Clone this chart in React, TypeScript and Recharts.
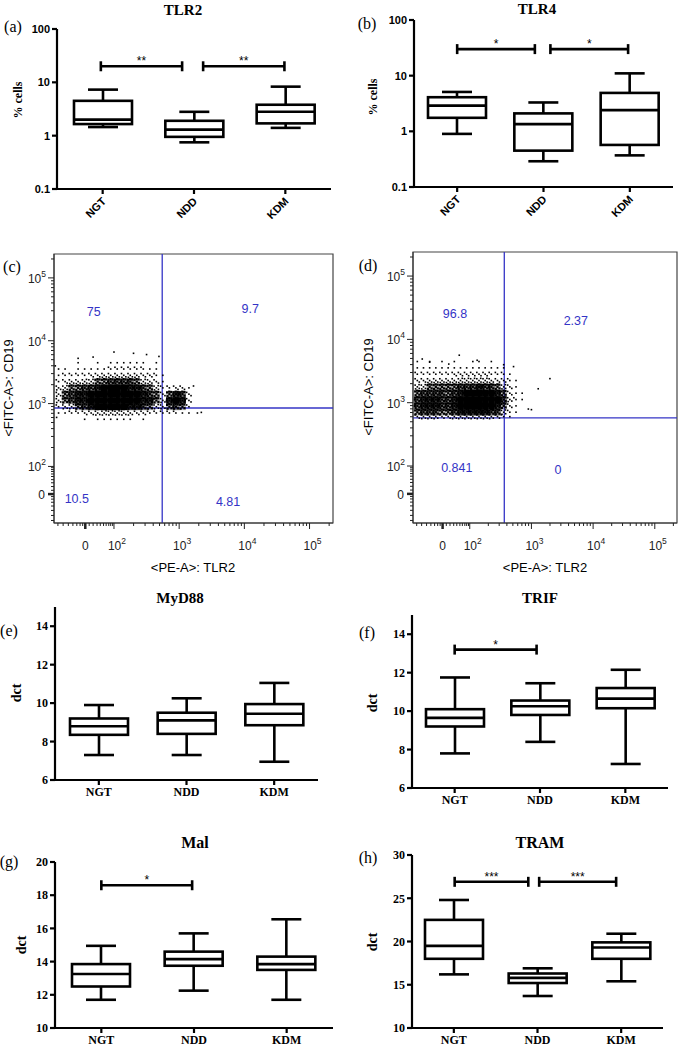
import React from "react";
import {
  ComposedChart,
  ScatterChart,
  Bar,
  Scatter,
  XAxis,
  YAxis,
  ReferenceLine,
  ReferenceArea,
} from "recharts";

const SERIF = '"Liberation Serif", "Times New Roman", serif';
const SANS = '"Liberation Sans", Arial, sans-serif';
const BLUE = "#3434c6";

const groups = ["NGT", "NDD", "KDM"];

// [min, q1, median, q3, max] per group
const tlr2Stats = [[1.45, 1.65, 2.0, 4.5, 7.3], [0.75, 0.95, 1.3, 1.9, 2.8], [1.4, 1.7, 2.8, 3.8, 8.3]];
const tlr4Stats = [[0.9, 1.75, 2.9, 4.1, 5.1], [0.29, 0.45, 1.35, 2.1, 3.3], [0.37, 0.57, 2.4, 4.9, 11]];
const myd88Stats = [[7.3, 8.35, 8.8, 9.2, 9.9], [7.3, 8.4, 9.1, 9.5, 10.25], [6.95, 8.85, 9.45, 9.95, 11.05]];
const trifStats = [[7.8, 9.2, 9.65, 10.1, 11.75], [8.4, 9.8, 10.25, 10.55, 11.45], [7.25, 10.15, 10.65, 11.2, 12.15]];
const malStats = [[11.7, 12.5, 13.25, 13.85, 14.95], [12.25, 13.75, 14.15, 14.6, 15.7], [11.7, 13.5, 13.85, 14.3, 16.55]];
const tramStats = [[16.2, 18.0, 19.5, 22.5, 24.8], [13.7, 15.2, 15.8, 16.3, 16.9], [15.4, 18.0, 19.3, 19.9, 20.9]];

// significance brackets (x on a 1..3 group scale)
const tlr2Sig = [{ from: 0.98, to: 1.87, y: 20, label: "**" }, { from: 2.1, to: 2.99, y: 20, label: "**" }];
const tlr4Sig = [{ from: 1.0, to: 1.9, y: 30, label: "*" }, { from: 2.08, to: 2.98, y: 30, label: "*" }];
const trifSig = [{ from: 1.0, to: 1.96, y: 13.2, label: "*" }];
const malSig = [{ from: 1.0, to: 1.98, y: 18.6, label: "*" }];
const tramSig = [{ from: 1.01, to: 1.89, y: 26.9, label: "***" }, { from: 2.02, to: 2.94, y: 26.9, label: "***" }];

const logTicks = [0.1, 1, 10, 100];
const dctTicksA = [6, 8, 10, 12, 14];
const dctTicksB = [10, 12, 14, 16, 18, 20];
const dctTicksC = [10, 15, 20, 25, 30];

// flow plots: positions in display decades (2 = 10^2, 3 = 10^3 ...)
const flowMajor = [1.56, 2, 3, 4, 5];
const flowExp = ["", "2", "3", "4", "5"];
const flowMinorLinear = [1.14, 1.22, 1.3, 1.37, 1.43, 1.48, 1.52, 1.62, 1.68, 1.74, 1.79, 1.84, 1.88, 1.92, 1.95, 1.98];
const flowMinorLog: number[] = [];
[2, 3, 4, 5].forEach((d) =>
  [2, 3, 4, 5, 6, 7, 8, 9].forEach((k) => {
    const v = d + Math.log10(k);
    if (v < 5.36) flowMinorLog.push(v);
  })
);
const flowTicks = [...flowMajor, ...flowMinorLinear, ...flowMinorLog].sort((a, b) => a - b);

// event density (0-9) of panel (c), rows top to bottom
const cloudCX = [1.15, 1.25, 1.35, 1.45, 1.55, 1.65, 1.75, 1.85, 1.95, 2.05, 2.15, 2.25, 2.35, 2.45, 2.55, 2.65, 2.75, 2.85, 2.95, 3.05, 3.15];
const cloudCY = [3.75, 3.65, 3.55, 3.45, 3.35, 3.25, 3.15, 3.05, 2.95, 2.85, 2.75];
const cloudCDensity = [
  [0, 0, 0, 0, 0, 0, 0, 0, 0, 0, 0, 0, 0, 0, 0, 0, 0, 0, 0, 0, 0],
  [0, 0, 0, 1, 0, 0, 1, 0, 1, 1, 1, 1, 1, 1, 0, 1, 0, 0, 0, 0, 0],
  [1, 1, 0, 1, 1, 1, 1, 1, 2, 2, 2, 2, 2, 2, 1, 1, 0, 0, 0, 0, 0],
  [1, 2, 2, 2, 2, 3, 3, 4, 4, 4, 4, 4, 4, 3, 3, 2, 1, 0, 0, 0, 0],
  [2, 3, 4, 4, 5, 5, 6, 6, 7, 7, 7, 7, 6, 5, 4, 3, 1, 0, 0, 0, 0],
  [4, 5, 6, 6, 7, 7, 8, 9, 9, 9, 9, 8, 8, 7, 6, 5, 2, 2, 3, 3, 1],
  [4, 6, 7, 8, 8, 9, 9, 9, 9, 9, 9, 9, 9, 8, 7, 6, 3, 6, 8, 7, 3],
  [4, 6, 7, 8, 8, 9, 9, 9, 9, 9, 9, 9, 9, 8, 8, 6, 4, 8, 9, 8, 3],
  [2, 4, 5, 6, 7, 8, 9, 9, 9, 9, 9, 8, 8, 7, 6, 5, 4, 6, 7, 6, 2],
  [1, 1, 2, 2, 3, 3, 4, 5, 5, 5, 4, 4, 3, 3, 2, 2, 2, 2, 2, 1, 1],
  [0, 0, 0, 0, 1, 0, 1, 1, 1, 1, 1, 1, 0, 1, 0, 0, 0, 0, 0, 0, 0],
];
const straysC = [
  { x: 1.1, y: 3.6 }, { x: 1.68, y: 3.74 }, { x: 2.69, y: 3.75 }, { x: 2.3, y: 3.8 },
  { x: 2.0, y: 3.82 }, { x: 3.22, y: 3.28 }, { x: 3.28, y: 2.85 }, { x: 3.34, y: 2.86 },
  { x: 1.12, y: 2.78 }, { x: 1.45, y: 3.72 }, { x: 2.5, y: 3.78 },
];
const quadCX = 2.74;
const quadCY = 2.93;
const quadLabelsC = [
  { x: 1.69, y: 4.45, text: "75" },
  { x: 4.09, y: 4.5, text: "9.7" },
  { x: 1.43, y: 1.48, text: "10.5" },
  { x: 3.75, y: 1.43, text: "4.81" },
];

// event density (0-9) of panel (d), rows top to bottom
const cloudDX = [1.15, 1.25, 1.35, 1.45, 1.55, 1.65, 1.75, 1.85, 1.95, 2.05, 2.15, 2.25, 2.35, 2.45, 2.55, 2.65, 2.75, 2.85];
const cloudDY = [3.75, 3.65, 3.55, 3.45, 3.35, 3.25, 3.15, 3.05, 2.95, 2.85, 2.78];
const cloudDDensity = [
  [0, 0, 0, 0, 0, 0, 0, 0, 0, 0, 0, 0, 0, 0, 0, 0, 0, 0],
  [1, 0, 1, 0, 1, 0, 1, 0, 0, 1, 1, 0, 1, 0, 0, 0, 0, 0],
  [1, 1, 1, 1, 1, 1, 1, 1, 1, 1, 1, 1, 1, 1, 1, 0, 0, 0],
  [2, 2, 2, 2, 2, 2, 3, 3, 3, 3, 3, 3, 2, 2, 2, 1, 0, 0],
  [3, 3, 4, 4, 4, 4, 4, 5, 5, 5, 5, 5, 4, 3, 3, 2, 1, 0],
  [5, 5, 6, 6, 6, 6, 6, 7, 7, 7, 8, 7, 7, 6, 5, 3, 1, 0],
  [6, 7, 7, 7, 7, 6, 7, 8, 9, 9, 9, 9, 9, 8, 6, 3, 1, 1],
  [7, 8, 8, 8, 7, 7, 8, 9, 9, 9, 9, 9, 9, 9, 7, 4, 2, 1],
  [7, 8, 8, 8, 7, 7, 8, 9, 9, 9, 9, 9, 9, 8, 6, 3, 1, 0],
  [6, 7, 7, 7, 6, 6, 7, 8, 8, 8, 8, 8, 7, 7, 5, 2, 1, 0],
  [3, 4, 4, 4, 3, 3, 4, 4, 4, 4, 4, 4, 4, 3, 2, 1, 0, 0],
];
const straysD = [
  { x: 1.83, y: 3.75 }, { x: 2.12, y: 3.67 }, { x: 2.71, y: 3.57 }, { x: 3.3, y: 3.38 },
  { x: 3.0, y: 2.89 }, { x: 3.11, y: 3.22 }, { x: 1.35, y: 3.64 }, { x: 1.23, y: 3.69 },
  { x: 1.66, y: 3.61 }, { x: 2.95, y: 2.9 }, { x: 2.55, y: 3.6 },
];
const quadDX = 2.56;
const quadDY = 2.76;
const quadLabelsD = [
  { x: 1.76, y: 4.4, text: "96.8" },
  { x: 3.72, y: 4.29, text: "2.37" },
  { x: 1.79, y: 1.97, text: "0.841" },
  { x: 3.43, y: 1.94, text: "0" },
];

const FX: [number, number] = [1.08, 5.36];
const FY: [number, number] = [1.1, 5.38];

// ---------- box plot pieces ----------
const WhiskerShape = (p: any) => {
  const top = Math.min(p.y, p.y + p.height);
  const bot = Math.max(p.y, p.y + p.height);
  const cx = p.x + p.width / 2;
  return (
    <g stroke="#000" strokeWidth={2.6} fill="none">
      <line x1={cx} y1={top} x2={cx} y2={bot} />
      <line x1={p.x} y1={top} x2={p.x + p.width} y2={top} />
      <line x1={p.x} y1={bot} x2={p.x + p.width} y2={bot} />
    </g>
  );
};

const BoxShape = (p: any) => (
  <rect
    x={p.x}
    y={Math.min(p.y, p.y + p.height)}
    width={p.width}
    height={Math.abs(p.height)}
    fill="#fff"
    stroke="#000"
    strokeWidth={2.6}
  />
);

const makeMedian = (w: number) => (p: any) => (
  <line x1={p.cx - w / 2} y1={p.cy} x2={p.cx + w / 2} y2={p.cy} stroke="#000" strokeWidth={2.6} />
);

const makeBracket = (label: string) => (p: any) => (
  <g>
    <line x1={p.x1} y1={p.y1} x2={p.x2} y2={p.y2} stroke="#000" strokeWidth={2.6} />
    <line x1={p.x1} y1={p.y1 - 5} x2={p.x1} y2={p.y1 + 5} stroke="#000" strokeWidth={2.6} />
    <line x1={p.x2} y1={p.y2 - 5} x2={p.x2} y2={p.y2 + 5} stroke="#000" strokeWidth={2.6} />
    <text x={(p.x1 + p.x2) / 2} y={p.y1 - 1} textAnchor="middle" fontFamily={SANS} fontSize={12} fill="#000">
      {label}
    </text>
  </g>
);

const SlantTick = (p: any) => {
  const x = p.x + 4;
  const y = p.y + 6;
  return (
    <text x={x} y={y} transform={`rotate(-45 ${x} ${y})`} textAnchor="end" fontFamily={SANS} fontWeight={700} fontSize={11} fill="#000">
      {p.payload.value}
    </text>
  );
};

type BoxPanelProps = {
  stats: number[][];
  sig: { from: number; to: number; y: number; label: string }[];
  width: number;
  height: number;
  top: number;
  right: number;
  yw: number;
  xh: number;
  domain: [number, number];
  ticks: number[];
  log?: boolean;
};

function BoxPanel({ stats, sig, width, height, top, right, yw, xh, domain, ticks, log }: BoxPanelProps) {
  const rows = groups.map((g, i) => ({
    g,
    pos: i + 1,
    whisker: [stats[i][0], stats[i][4]],
    box: [stats[i][1], stats[i][3]],
    med: stats[i][2],
  }));
  const tickFont = log
    ? { fontFamily: SANS, fontWeight: 700, fontSize: 11, fill: "#000" }
    : { fontFamily: SERIF, fontWeight: 700, fontSize: 12, fill: "#000" };
  const line = { stroke: "#000", strokeWidth: 2.2 };
  return (
    <ComposedChart width={width} height={height} data={rows} margin={{ top, right, left: 0, bottom: 0 }}>
      <XAxis xAxisId="w" dataKey="g" hide />
      <XAxis xAxisId="n" type="number" dataKey="pos" domain={[0.5, 3.5]} allowDataOverflow hide />
      <XAxis
        xAxisId="b"
        dataKey="g"
        height={xh}
        axisLine={line}
        tickLine={line}
        tickSize={5}
        interval={0}
        tick={log ? SlantTick : tickFont}
      />
      <YAxis
        type="number"
        width={yw}
        domain={domain}
        ticks={ticks}
        scale={log ? "log" : "linear"}
        allowDataOverflow
        axisLine={line}
        tickLine={line}
        tickSize={5}
        interval={0}
        tick={tickFont}
        tickFormatter={(v: number) => String(v)}
      />
      <Bar xAxisId="w" dataKey="whisker" barSize={30} shape={WhiskerShape} isAnimationActive={false} />
      <Bar xAxisId="b" dataKey="box" barSize={58} shape={BoxShape} isAnimationActive={false} />
      <Scatter xAxisId="b" dataKey="med" shape={makeMedian(58)} isAnimationActive={false} />
      {sig.map((s, i) => (
        <ReferenceLine
          key={i}
          xAxisId="n"
          ifOverflow="visible"
          segment={[{ x: s.from, y: s.y }, { x: s.to, y: s.y }]}
          shape={makeBracket(s.label)}
        />
      ))}
    </ComposedChart>
  );
}

// ---------- flow plot pieces ----------
const majorIndex = (v: number) => flowMajor.findIndex((m) => Math.abs(m - v) < 1e-6);

const TickText = ({ i, x, y, anchor }: { i: number; x: number; y: number; anchor: "middle" | "end" }) => (
  <text x={x} y={y} textAnchor={anchor} fontFamily={SANS} fontSize={12} fill="#222">
    {flowExp[i] === "" ? "0" : "10"}
    {flowExp[i] !== "" && (
      <tspan dy={-6} fontSize={8.5}>
        {flowExp[i]}
      </tspan>
    )}
  </text>
);

const FlowXTick = (p: any) => {
  const i = majorIndex(p.payload.value);
  return (
    <g>
      <line x1={p.x} y1={p.y} x2={p.x} y2={p.y + (i >= 0 ? 6 : 3)} stroke="#222" strokeWidth={i === 0 ? 2.5 : 1} />
      {i >= 0 && <TickText i={i} x={i === 0 ? p.x : p.x + 3} y={p.y + 27} anchor="middle" />}
    </g>
  );
};

const FlowYTick = (p: any) => {
  const i = majorIndex(p.payload.value);
  return (
    <g>
      <line x1={p.x - (i >= 0 ? 6 : 3)} y1={p.y} x2={p.x} y2={p.y} stroke="#222" strokeWidth={i === 0 ? 2.5 : 1} />
      {i >= 0 && <TickText i={i} x={i === 0 ? p.x - 9 : p.x - 8} y={p.y + 5} anchor="end" />}
    </g>
  );
};

// sub-cell spots used to draw density as a dot texture
const spots = [
  [0.5, 0.5], [0.15, 0.22], [0.82, 0.74], [0.22, 0.82], [0.78, 0.15],
  [0.47, 0.1], [0.1, 0.52], [0.88, 0.44], [0.52, 0.88],
];

const makeCell = (cw: number, ch: number) => (p: any) => {
  const d = p.payload.d;
  const s = d >= 6 ? 2.2 : 1.6;
  const solid = d >= 6 ? (d - 5) / 4 : 0;
  return (
    <g fill="#000">
      {solid > 0 && (
        <rect x={p.cx - cw / 2} y={p.cy - ch / 2} width={cw + 0.3} height={ch + 0.3} fillOpacity={solid} />
      )}
      {spots.slice(0, d).map(([fx, fy], k) => (
        <rect key={k} x={p.cx - cw / 2 + fx * cw - s / 2} y={p.cy - ch / 2 + fy * ch - s / 2} width={s} height={s} />
      ))}
    </g>
  );
};

const StrayDot = (p: any) => <rect x={p.cx - 0.8} y={p.cy - 0.8} width={1.6} height={1.6} fill="#000" />;

const QuadText = (p: any) => (
  <text x={p.cx} y={p.cy + 4} textAnchor="middle" fontFamily={SANS} fontSize={12.5} fill={BLUE}>
    {p.payload.text}
  </text>
);

function buildCells(xs: number[], ys: number[], dens: number[][]) {
  const out: { x: number; y: number; d: number }[] = [];
  ys.forEach((y, r) => xs.forEach((x, c) => {
    if (dens[r][c] > 0) out.push({ x, y, d: dens[r][c] });
  }));
  return out;
}

type FlowProps = {
  width: number;
  height: number;
  top: number;
  right: number;
  yw: number;
  xh: number;
  cells: { x: number; y: number; d: number }[];
  strays: { x: number; y: number }[];
  qx: number;
  qy: number;
  labels: { x: number; y: number; text: string }[];
};

function FlowPanel({ width, height, top, right, yw, xh, cells, strays, qx, qy, labels }: FlowProps) {
  const pw = width - right - yw;
  const ph = height - top - xh;
  const cw = (0.1 * pw) / (FX[1] - FX[0]);
  const ch = (0.1 * ph) / (FY[1] - FY[0]);
  return (
    <ScatterChart width={width} height={height} margin={{ top, right, left: 0, bottom: 0 }}>
      <XAxis
        type="number"
        dataKey="x"
        domain={FX}
        ticks={flowTicks}
        interval={0}
        allowDataOverflow
        height={xh}
        tickSize={0}
        tickMargin={0}
        tickLine={false}
        axisLine={{ stroke: "#333" }}
        tick={FlowXTick}
      />
      <YAxis
        type="number"
        dataKey="y"
        domain={FY}
        ticks={flowTicks}
        interval={0}
        allowDataOverflow
        width={yw}
        tickSize={0}
        tickMargin={0}
        tickLine={false}
        axisLine={{ stroke: "#333" }}
        tick={FlowYTick}
      />
      <ReferenceArea x1={FX[0]} x2={FX[1]} y1={FY[0]} y2={FY[1]} fill="none" stroke="#444" strokeWidth={1.2} />
      <Scatter data={cells} shape={makeCell(cw, ch)} isAnimationActive={false} />
      <Scatter data={strays} shape={StrayDot} isAnimationActive={false} />
      <ReferenceLine x={qx} stroke={BLUE} strokeWidth={1.3} />
      <ReferenceLine y={qy} stroke={BLUE} strokeWidth={1.3} />
      <Scatter data={labels} shape={QuadText} isAnimationActive={false} />
    </ScatterChart>
  );
}

// ---------- page ----------
const Txt = ({ x, y, size = 16, bold = false, rotate = 0, font = SERIF, children }: any) => (
  <div
    style={{
      position: "absolute",
      left: x,
      top: y,
      transform: `translate(-50%, -50%) rotate(${rotate}deg)`,
      fontFamily: font,
      fontSize: size,
      fontWeight: bold ? 700 : 400,
      whiteSpace: "nowrap",
      lineHeight: 1,
      color: "#000",
    }}
  >
    {children}
  </div>
);

const At = ({ x, y, children }: any) => (
  <div style={{ position: "absolute", left: x, top: y }}>{children}</div>
);

export default function App() {
  const cellsC = buildCells(cloudCX, cloudCY, cloudCDensity);
  const cellsD = buildCells(cloudDX, cloudDY, cloudDDensity);
  return (
    <div style={{ position: "absolute", left: 0, top: 0, width: 679, height: 1050, background: "#fff", overflow: "hidden" }}>
      <At x={0} y={0}>
        <BoxPanel stats={tlr2Stats} sig={tlr2Sig} width={340} height={240} top={29} right={9} yw={57} xh={51} domain={[0.1, 100]} ticks={logTicks} log />
      </At>
      <At x={340} y={0}>
        <BoxPanel stats={tlr4Stats} sig={tlr4Sig} width={339} height={240} top={20} right={6} yw={74} xh={53} domain={[0.1, 100]} ticks={logTicks} log />
      </At>
      <At x={0} y={230}>
        <FlowPanel width={340} height={340} top={24} right={7} yw={54} xh={47} cells={cellsC} strays={straysC} qx={quadCX} qy={quadCY} labels={quadLabelsC} />
      </At>
      <At x={340} y={230}>
        <FlowPanel width={339} height={340} top={22} right={2} yw={73} xh={47} cells={cellsD} strays={straysD} qx={quadDX} qy={quadDY} labels={quadLabelsD} />
      </At>
      <At x={0} y={590}>
        <BoxPanel stats={myd88Stats} sig={[]} width={340} height={230} top={17} right={22} yw={55} xh={40} domain={[6, 15]} ticks={dctTicksA} />
      </At>
      <At x={340} y={590}>
        <BoxPanel stats={trifStats} sig={trifSig} width={339} height={230} top={25} right={11} yw={72} xh={32} domain={[6, 15]} ticks={dctTicksA} />
      </At>
      <At x={0} y={840}>
        <BoxPanel stats={malStats} sig={malSig} width={340} height={210} top={22} right={7} yw={55} xh={22} domain={[10, 20]} ticks={dctTicksB} />
      </At>
      <At x={340} y={840}>
        <BoxPanel stats={tramStats} sig={tramSig} width={339} height={210} top={15} right={16} yw={72} xh={22} domain={[10, 30]} ticks={dctTicksC} />
      </At>

      <Txt x={183} y={10} size={15} bold>TLR2</Txt>
      <Txt x={537} y={9} size={15} bold>TLR4</Txt>
      <Txt x={180} y={598} size={15} bold>MyD88</Txt>
      <Txt x={540} y={598} size={15} bold>TRIF</Txt>
      <Txt x={195} y={843} size={16} bold>Mal</Txt>
      <Txt x={540} y={843} size={16} bold>TRAM</Txt>

      <Txt x={13} y={27}>(a)</Txt>
      <Txt x={367} y={24}>(b)</Txt>
      <Txt x={12} y={267}>(c)</Txt>
      <Txt x={368} y={266}>(d)</Txt>
      <Txt x={9} y={631}>(e)</Txt>
      <Txt x={367} y={633}>(f)</Txt>
      <Txt x={9} y={862}>(g)</Txt>
      <Txt x={368} y={858}>(h)</Txt>

      <Txt x={18} y={100} size={12} bold rotate={-90}>% cells</Txt>
      <Txt x={373} y={97} size={12} bold rotate={-90}>% cells</Txt>
      <Txt x={17} y={693} size={14} bold rotate={-90}>dct</Txt>
      <Txt x={373} y={703} size={14} bold rotate={-90}>dct</Txt>
      <Txt x={22} y={945} size={14} bold rotate={-90}>dct</Txt>
      <Txt x={373} y={942} size={14} bold rotate={-90}>dct</Txt>

      <Txt x={193} y={567} size={13} font={SANS}>&lt;PE-A&gt;: TLR2</Txt>
      <Txt x={8} y={388} size={13} font={SANS} rotate={-90}>&lt;FITC-A&gt;: CD19</Txt>
      <Txt x={545} y={567} size={13} font={SANS}>&lt;PE-A&gt;: TLR2</Txt>
      <Txt x={368} y={387} size={13} font={SANS} rotate={-90}>&lt;FITC-A&gt;: CD19</Txt>
    </div>
  );
}
